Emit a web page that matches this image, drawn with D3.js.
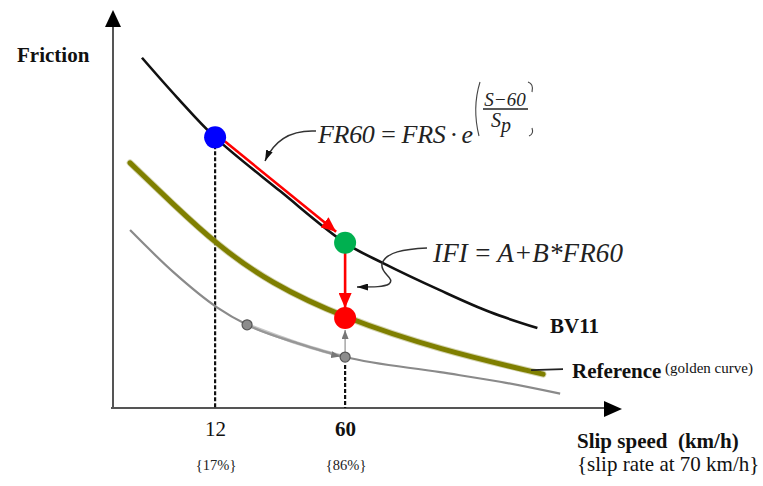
<!DOCTYPE html>
<html>
<head>
<meta charset="utf-8">
<script src="https://cdn.jsdelivr.net/npm/d3@7"></script>
<style>
  body { margin: 0; background: #fff; }
  svg { display: block; font-family: "Liberation Serif", "Times New Roman", serif; }
</style>
</head>
<body>
<div id="chart-area"><svg></svg></div>
<script>
const chartSize = { width: 763, height: 486 };
const origin = { x: 113, y: 408 };
const axisTip = { x: 622, y: 10 };

// slip speed (km/h) vs friction (schematic units)
const bv11Speed = [-15, -2, 12, 36, 60, 74, 95, 113.5, 131];
const bv11Friction = [88, 78, 68, 54.5, 41.5, 36.4, 29.6, 24.1, 20.1];

const goldenSpeed = [-19.4, -3.5, 12.7, 32.3, 59.6, 95.1, 133.1];
const goldenFriction = [61.6, 51.2, 41.0, 31.4, 22.6, 14.6, 8.5];

const greySpeed = [-19.4, -3.5, 12.7, 23.8, 42.3, 60, 95.1, 117.2, 139.4];
const greyFriction = [44.7, 34.2, 25.3, 20.9, 16.3, 12.8, 9.0, 6.6, 3.6];

const pointNames = ["measured", "fr60", "ifi", "greyA", "greyB"];
const pointSpeed = [12, 60, 60, 23.8, 60];
const pointFriction = [68, 41.5, 22.6, 20.9, 12.8];

const tickSpeeds = [12, 60];
const tickRates = ["{17%}", "{86%}"];

const pointStyle = {
  measured: { fill: "#0000ff", r: 11 },
  fr60: { fill: "#00b050", r: 11 },
  ifi: { fill: "#ff0000", r: 11 },
  greyA: { fill: "#8c8c8c", r: 5, stroke: "#555" },
  greyB: { fill: "#8c8c8c", r: 5, stroke: "#555" }
};

const zip = (xs, ys) => xs.map((v, i) => ({ speed: v, friction: ys[i] }));

const x = d3.scaleLinear().domain([-25.7, 161.5]).range([origin.x, 620]);
const y = d3.scaleLinear().domain([0, 100]).range([origin.y, 10]);

const lineWith = curve =>
  d3.line().x(d => x(d.speed)).y(d => y(d.friction)).curve(curve);
const line = lineWith(d3.curveCatmullRom.alpha(0.5));
const smoothLine = lineWith(d3.curveBasis);
const monoLine = lineWith(d3.curveMonotoneX);

const svg = d3
  .select("#chart-area svg")
  .attr("width", chartSize.width)
  .attr("height", chartSize.height);

const defs = svg.append("defs");
const marker = (id, colour, w, h) =>
  defs
    .append("marker")
    .attr("id", id)
    .attr("markerUnits", "userSpaceOnUse")
    .attr("viewBox", `0 0 ${w} ${h}`)
    .attr("markerWidth", w)
    .attr("markerHeight", h)
    .attr("refX", w)
    .attr("refY", h / 2)
    .attr("orient", "auto")
    .append("path")
    .attr("d", `M0,0L${w},${h / 2}L0,${h}Z`)
    .attr("fill", colour);
marker("red-head", "#ff0000", 15, 13);
marker("black-head", "#111", 11, 7);
marker("grey-head", "#777", 9, 7);

// axes
const axes = svg.append("g").attr("class", "axes");
axes
  .append("line")
  .attr("x1", origin.x).attr("y1", origin.y + 1)
  .attr("x2", origin.x).attr("y2", axisTip.y + 14)
  .attr("stroke", "#555").attr("stroke-width", 2);
axes
  .append("path")
  .attr("d", `M${origin.x},${axisTip.y}l-8,17h16z`)
  .attr("fill", "#000");
axes
  .append("line")
  .attr("x1", origin.x - 2).attr("y1", origin.y)
  .attr("x2", axisTip.x - 14).attr("y2", origin.y)
  .attr("stroke", "#555").attr("stroke-width", 2);
axes
  .append("path")
  .attr("d", `M${axisTip.x},${origin.y + 1}l-18,-8v16z`)
  .attr("fill", "#000");

const xAxis = d3
  .axisBottom(x)
  .tickValues(tickSpeeds)
  .tickSize(0)
  .tickPadding(13)
  .tickFormat(d3.format("d"));
const xg = svg
  .append("g")
  .attr("class", "x-axis")
  .attr("transform", `translate(0,${origin.y})`)
  .call(xAxis);
xg.select(".domain").remove();
xg.selectAll("text")
  .attr("font-family", "Liberation Serif, serif")
  .attr("font-size", 21)
  .attr("fill", "#111")
  .attr("font-weight", (d, i) => (i == 1 ? "bold" : "normal"));

svg
  .append("g")
  .selectAll("text")
  .data(tickSpeeds)
  .join("text")
  .attr("x", d => x(d) + 1)
  .attr("y", 470)
  .attr("text-anchor", "middle")
  .attr("font-size", 14.5)
  .attr("fill", "#222")
  .text((d, i) => tickRates[i]);

// dashed drop lines
const drops = [
  { speed: pointSpeed[0], from: pointFriction[0] },
  { speed: pointSpeed[4], from: pointFriction[4] }
];
svg
  .append("g")
  .selectAll("line")
  .data(drops)
  .join("line")
  .attr("x1", d => x(d.speed))
  .attr("x2", d => x(d.speed))
  .attr("y1", d => y(d.from) + 8)
  .attr("y2", origin.y)
  .attr("stroke", "#111")
  .attr("stroke-width", 2.2)
  .attr("stroke-dasharray", "4 2");

// curves
const grey = zip(greySpeed, greyFriction);
svg.append("path")
  .attr("d", monoLine(grey))
  .attr("fill", "none")
  .attr("stroke", "#8a8a8a")
  .attr("stroke-width", 2.2);
svg.append("path")
  .attr("d", monoLine(grey.slice(3, 6)))
  .attr("fill", "none")
  .attr("stroke", "#a0a0a0")
  .attr("stroke-width", 3.5)
  .attr("stroke-opacity", 0.6);

const golden = zip(goldenSpeed, goldenFriction);
svg.append("path")
  .attr("d", smoothLine(golden))
  .attr("fill", "none")
  .attr("stroke", "#b8b87a")
  .attr("stroke-opacity", 0.6)
  .attr("stroke-width", 6.8)
  .attr("stroke-linecap", "round");
svg.append("path")
  .attr("d", smoothLine(golden))
  .attr("fill", "none")
  .attr("stroke", "#7f7f00")
  .attr("stroke-width", 5)
  .attr("stroke-linecap", "round");

svg.append("path")
  .attr("d", line(zip(bv11Speed, bv11Friction)))
  .attr("fill", "none")
  .attr("stroke", "#111")
  .attr("stroke-width", 2.6);

// legend leader for Reference
svg.append("line")
  .attr("x1", x(goldenSpeed[6]) - 12).attr("y1", y(goldenFriction[6]) - 4)
  .attr("x2", 563).attr("y2", y(goldenFriction[6]) - 5)
  .attr("stroke", "#222").attr("stroke-width", 1.6);

// thin grey link between IFI point and grey point
svg.append("line")
  .attr("x1", x(pointSpeed[4])).attr("y1", y(pointFriction[4]) - 5)
  .attr("x2", x(pointSpeed[2])).attr("y2", y(pointFriction[2]) + 12)
  .attr("stroke", "#999").attr("stroke-width", 1.3)
  .attr("marker-end", "url(#grey-head)");

// red arrows
const p = pointNames.map((n, i) => ({ name: n, px: x(pointSpeed[i]), py: y(pointFriction[i]) }));
const dx = p[1].px - p[0].px, dy = p[1].py - p[0].py;
const len = Math.hypot(dx, dy);
const ux = dx / len, uy = dy / len;
const off = { x: uy * 3, y: -ux * 3 };
svg.append("line")
  .attr("x1", p[0].px + ux * 10 + off.x).attr("y1", p[0].py + uy * 10 + off.y)
  .attr("x2", p[1].px - ux * 14 + off.x).attr("y2", p[1].py - uy * 14 + off.y)
  .attr("stroke", "#ff0000").attr("stroke-width", 2.6)
  .attr("marker-end", "url(#red-head)");
svg.append("line")
  .attr("x1", p[1].px).attr("y1", p[1].py + 10)
  .attr("x2", p[2].px).attr("y2", p[2].py - 10)
  .attr("stroke", "#ff0000").attr("stroke-width", 2.6)
  .attr("marker-end", "url(#red-head)");

// points
svg.append("g")
  .selectAll("circle")
  .data(p)
  .join("circle")
  .attr("cx", d => d.px)
  .attr("cy", d => d.py)
  .attr("r", d => pointStyle[d.name].r)
  .attr("fill", d => pointStyle[d.name].fill)
  .attr("stroke", d => pointStyle[d.name].stroke || "none")
  .attr("stroke-width", 1.2);

// grey arrow along grey curve into point B
svg.append("path")
  .attr("d", `M${p[4].px - 14},${p[4].py - 2.5}L${p[4].px - 5},${p[4].py - 0.5}`)
  .attr("stroke", "none")
  .attr("marker-end", "url(#grey-head)");

// formula annotations
const f1 = svg.append("g").attr("class", "fr60").attr("fill", "#222");
f1.append("text")
  .attr("x", 318).attr("y", 143)
  .attr("font-size", 26).attr("font-style", "italic")
  .attr("textLength", 155)
  .attr("lengthAdjust", "spacing")
  .text("FR60\u2009=\u2009FRS\u2009\u00b7\u2009e");
f1.append("text")
  .attr("x", 505).attr("y", 106)
  .attr("text-anchor", "middle")
  .attr("font-size", 19).attr("font-style", "italic")
  .text("S\u221260");
f1.append("line")
  .attr("x1", 483).attr("x2", 528).attr("y1", 109).attr("y2", 109)
  .attr("stroke", "#222").attr("stroke-width", 1.3);
const den = f1.append("text")
  .attr("x", 491).attr("y", 127)
  .attr("font-size", 20).attr("font-style", "italic");
den.append("tspan").text("S");
den.append("tspan").attr("dy", 5).text("p");
f1.append("path")
  .attr("d", "M480,82Q472,108 479,136")
  .attr("fill", "none").attr("stroke", "#444").attr("stroke-width", 1.1);
f1.append("path")
  .attr("d", "M528,82Q534,84 532,92M532,128Q534,134 529,136")
  .attr("fill", "none").attr("stroke", "#444").attr("stroke-width", 1.1);

const leader1 = d3.path();
leader1.moveTo(316, 131);
leader1.bezierCurveTo(296, 130, 276, 136, 265, 161);
svg.append("path")
  .attr("d", leader1.toString())
  .attr("fill", "none").attr("stroke", "#333").attr("stroke-width", 1.5)
  .attr("marker-end", "url(#black-head)");

svg.append("text")
  .attr("x", 433).attr("y", 262)
  .attr("font-size", 27).attr("font-style", "italic")
  .attr("fill", "#222")
  .attr("textLength", 190)
  .attr("lengthAdjust", "spacing")
  .text("IFI\u2009=\u2009A+B*FR60");

const leader2 = d3.path();
leader2.moveTo(427, 248);
leader2.bezierCurveTo(405, 249, 385, 252, 382, 264);
leader2.bezierCurveTo(380, 274, 396, 278, 389, 284);
leader2.bezierCurveTo(384, 287, 375, 287, 357, 287);
svg.append("path")
  .attr("d", leader2.toString())
  .attr("fill", "none").attr("stroke", "#333").attr("stroke-width", 1.5)
  .attr("marker-end", "url(#black-head)");

// labels
const labels = svg.append("g").attr("fill", "#111");
labels.append("text").attr("x", 17).attr("y", 62)
  .attr("font-size", 21).attr("font-weight", "bold").text("Friction");
labels.append("text").attr("x", 550).attr("y", 333)
  .attr("font-size", 21).attr("font-weight", "bold").text("BV11");
labels.append("text").attr("x", 572).attr("y", 378)
  .attr("font-size", 21).attr("font-weight", "bold").text("Reference");
labels.append("text").attr("x", 665).attr("y", 373)
  .attr("font-size", 15).text("(golden curve)");
labels.append("text").attr("x", 577).attr("y", 448)
  .attr("font-size", 21).attr("font-weight", "bold").text("Slip speed\u00a0 (km/h)");
labels.append("text").attr("x", 577).attr("y", 471)
  .attr("font-size", 21).text("{slip rate at 70 km/h}");
</script>
</body>
</html>
